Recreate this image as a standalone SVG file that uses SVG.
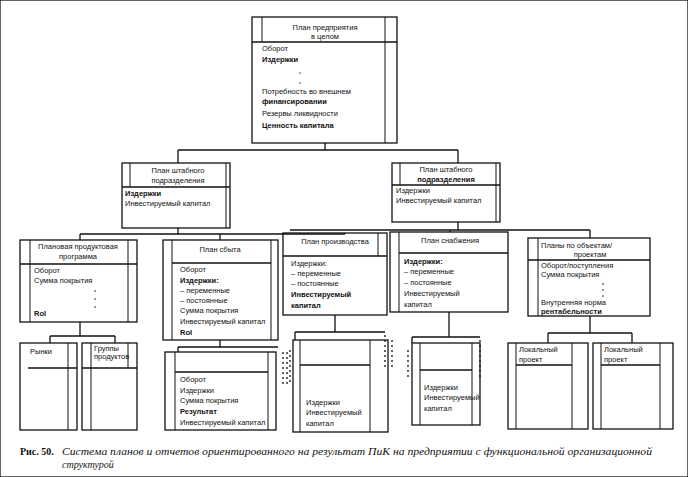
<svg xmlns="http://www.w3.org/2000/svg" width="688" height="477" viewBox="0 0 688 477">
<style>
rect,line,path{fill:none;stroke:#111;stroke-width:1.3}
.in{stroke-width:1}
circle{fill:#111;stroke:none}
text{font-family:"Liberation Sans",Arial,sans-serif;font-size:7.5px;fill:#111}
.b{font-weight:bold}
.d{stroke-dasharray:2 3}
.cap{font-family:"Liberation Serif",serif;font-style:italic;font-size:10px}
</style>
<rect width="688" height="477" fill="#fff" stroke="none"/>
<g id="connectors">
<path d="M325 143V150M178 150H458M178 150V163M458 150V163"/>
<path d="M178 228V234M80 234H345M80 234V240M220 234V240M345 234V233"/>
<path d="M458 222V230M290 230H590M450 230V232M590 230V238"/>
<path d="M80 322V336M50 336H115M50 336V343M115 336V343"/>
<path d="M220 340V347M178 347H278M178 347V352"/>
<path d="M335 315V332M295 332H385M295 332V340"/>
<path d="M449 312V337M412 337H480M412 337V343"/>
<path d="M590 316V333M548 333H632M548 333V343M632 333V343"/>
<path class="d" d="M283 352V385M287 352V385M290 350V385M385 335V370M392 340V370M408 350V380M480 340V380"/>
</g>
<g id="n-top"><rect x="252" y="17" width="145" height="126"/><line class="in" x1="262" y1="17" x2="262" y2="42"/><line class="in" x1="385" y1="17" x2="385" y2="143"/><line x1="252" y1="42" x2="397" y2="42"/>
<text x="325" y="30" text-anchor="middle">План предприятия</text><text x="325" y="39" text-anchor="middle">в целом</text>
<text x="262" y="51">Оборот</text><text x="262" y="62" class="b">Издержки</text><circle cx="300" cy="73" r="0.7"/><circle cx="300" cy="83" r="0.7"/>
<text x="262" y="94">Потребность во внешнем</text><text x="262" y="104" class="b">финансировании</text><text x="262" y="116">Резервы ликвидности</text><text x="262" y="128" class="b">Ценность капитала</text></g>
<g id="n-staff1"><rect x="122" y="163" width="108" height="65"/><line class="in" x1="130" y1="163" x2="130" y2="187"/><line class="in" x1="226" y1="163" x2="226" y2="228"/><line x1="122" y1="187" x2="230" y2="187"/>
<text x="178" y="173" text-anchor="middle">План штабного</text><text x="178" y="183" text-anchor="middle">подразделения</text><text x="125" y="196" class="b">Издержки</text><text x="125" y="206">Инвестируемый капитал</text></g>
<g id="n-staff2"><rect x="392" y="163" width="108" height="59"/><line class="in" x1="400" y1="163" x2="400" y2="185"/><line class="in" x1="496" y1="163" x2="496" y2="222"/><line x1="392" y1="185" x2="500" y2="185"/>
<text x="446" y="172" text-anchor="middle">План штабного</text><text x="446" y="182" text-anchor="middle" class="b">подразделения</text><text x="396" y="193">Издержки</text><text x="396" y="203">Инвестируемый капитал</text></g>
<g id="n-prog"><rect x="20" y="240" width="117" height="82"/><line class="in" x1="30" y1="240" x2="30" y2="322"/><line class="in" x1="128" y1="240" x2="128" y2="322"/><line x1="20" y1="264" x2="137" y2="264"/>
<text x="78" y="249" text-anchor="middle">Плановая продуктовая</text><text x="78" y="259" text-anchor="middle">программа</text><text x="34" y="273">Оборот</text><text x="34" y="283">Сумма покрытия</text><circle cx="95" cy="291" r="0.8"/><circle cx="95" cy="299" r="0.8"/><circle cx="95" cy="307" r="0.8"/><text x="34" y="316" class="b">RoI</text></g>
<g id="n-sales"><rect x="163" y="240" width="115" height="100"/><line class="in" x1="172" y1="240" x2="172" y2="340"/><line class="in" x1="271" y1="240" x2="271" y2="340"/><line x1="172" y1="263" x2="271" y2="263"/>
<text x="220" y="252" text-anchor="middle">План сбыта</text><text x="180" y="272">Оборот</text><text x="180" y="283" class="b" font-size="8.5">Издержки:</text><text x="180" y="293">– переменные</text><text x="180" y="303">– постоянные</text><text x="180" y="313">Сумма покрытия</text><text x="180" y="324" font-size="6.5">Инвестируемый капитал</text><text x="180" y="335" class="b">RoI</text></g>
<g id="n-prod"><rect x="283" y="233" width="104" height="82"/><line class="in" x1="378" y1="233" x2="378" y2="256"/><line x1="283" y1="256" x2="387" y2="256"/>
<text x="335" y="244" text-anchor="middle">План производства</text><text x="291" y="266">Издержки:</text><text x="291" y="276" font-size="6.5">– переменные</text><text x="291" y="286" font-size="6.5">– постоянные</text><text x="291" y="297" class="b" font-size="8.5">Инвестируемый</text><text x="291" y="308" class="b">капитал</text></g>
<g id="n-supply"><rect x="390" y="232" width="118" height="80"/><line class="in" x1="399" y1="232" x2="399" y2="312"/><line x1="399" y1="253" x2="508" y2="253"/>
<text x="450" y="243" text-anchor="middle">План снабжения</text><text x="404" y="264" class="b" font-size="8.5">Издержки:</text><text x="404" y="274" font-size="6.5">– переменные</text><text x="404" y="285">– постоянные</text><text x="404" y="296">Инвестируемый</text><text x="404" y="307" font-size="6">капитал</text></g>
<g id="n-proj"><rect x="528" y="238" width="122" height="78"/><line class="in" x1="538" y1="238" x2="538" y2="316"/><line x1="528" y1="260" x2="650" y2="260"/>
<text x="541" y="248" font-size="8.5">Планы по объектам/</text><text x="590" y="257" text-anchor="middle" font-size="6">проектам</text><text x="541" y="268">Оборот/поступления</text><text x="541" y="277">Сумма покрытия</text><circle cx="603" cy="284" r="0.8"/><circle cx="603" cy="290" r="0.8"/><circle cx="603" cy="296" r="0.8"/><text x="541" y="305" font-size="6.5">Внутренняя норма</text><text x="541" y="314" class="b">рентабельности</text></g>
<g id="n-markets"><rect x="20" y="343" width="57" height="87"/><line class="in" x1="68" y1="343" x2="68" y2="430"/><line x1="28" y1="368" x2="77" y2="368"/><text x="30" y="354" font-size="6.5">Рынки</text></g>
<g id="n-groups"><rect x="82" y="343" width="55" height="87"/><line class="in" x1="91" y1="343" x2="91" y2="430"/><line class="in" x1="128" y1="343" x2="128" y2="368"/><line x1="82" y1="368" x2="137" y2="368"/><text x="94" y="351" font-size="6.5">Группы</text><text x="94" y="359" font-size="6.5">продуктов</text></g>
<g id="n-sales2"><rect x="165" y="352" width="111" height="78"/><line class="in" x1="175" y1="352" x2="175" y2="430"/><line class="in" x1="268" y1="352" x2="268" y2="430"/><line x1="175" y1="372" x2="268" y2="372"/>
<text x="180" y="382">Оборот</text><text x="180" y="393">Издержки</text><text x="180" y="403" font-size="7">Сумма покрытия</text><text x="180" y="414" class="b">Результат</text><text x="180" y="425" font-size="6.5">Инвестируемый капитал</text></g>
<g id="n-prod2"><rect x="293" y="340" width="95" height="92"/><line class="in" x1="300" y1="340" x2="300" y2="432"/><line class="in" x1="370" y1="340" x2="370" y2="432"/><line x1="300" y1="365" x2="370" y2="365"/>
<text x="306" y="405" font-size="7">Издержки</text><text x="306" y="415" font-size="7">Инвестируемый</text><text x="306" y="426" font-size="7">капитал</text></g>
<g id="n-supply2"><rect x="412" y="343" width="68" height="82"/><line class="in" x1="420" y1="343" x2="420" y2="425"/><line class="in" x1="472" y1="343" x2="472" y2="425"/><line x1="420" y1="370" x2="472" y2="370"/>
<text x="424" y="390" font-size="7">Издержки</text><text x="424" y="400" font-size="7">Инвестируемый</text><text x="424" y="411" font-size="7">капитал</text></g>
<g id="n-local1"><rect x="508" y="343" width="80" height="86"/><line class="in" x1="516" y1="343" x2="516" y2="429"/><line class="in" x1="572" y1="343" x2="572" y2="429"/><line x1="516" y1="365" x2="572" y2="365"/><text x="519" y="352" font-size="7">Локальный</text><text x="519" y="362" font-size="7">проект</text></g>
<g id="n-local2"><rect x="593" y="343" width="80" height="86"/><line class="in" x1="601" y1="343" x2="601" y2="429"/><line class="in" x1="660" y1="343" x2="660" y2="429"/><line x1="601" y1="365" x2="660" y2="365"/><text x="604" y="352" font-size="7">Локальный</text><text x="604" y="362" font-size="7">проект</text></g>
<text x="20" y="455" style="font-family:'Liberation Serif',serif;font-weight:bold;font-size:10px">Рис. 50.</text>
<text x="62" y="455" class="cap" textLength="590" lengthAdjust="spacingAndGlyphs">Система планов и отчетов ориентированного на результат ПиК на предприятии с функциональной организационной</text>
<text x="62" y="468" class="cap">структурой</text>
</svg>
